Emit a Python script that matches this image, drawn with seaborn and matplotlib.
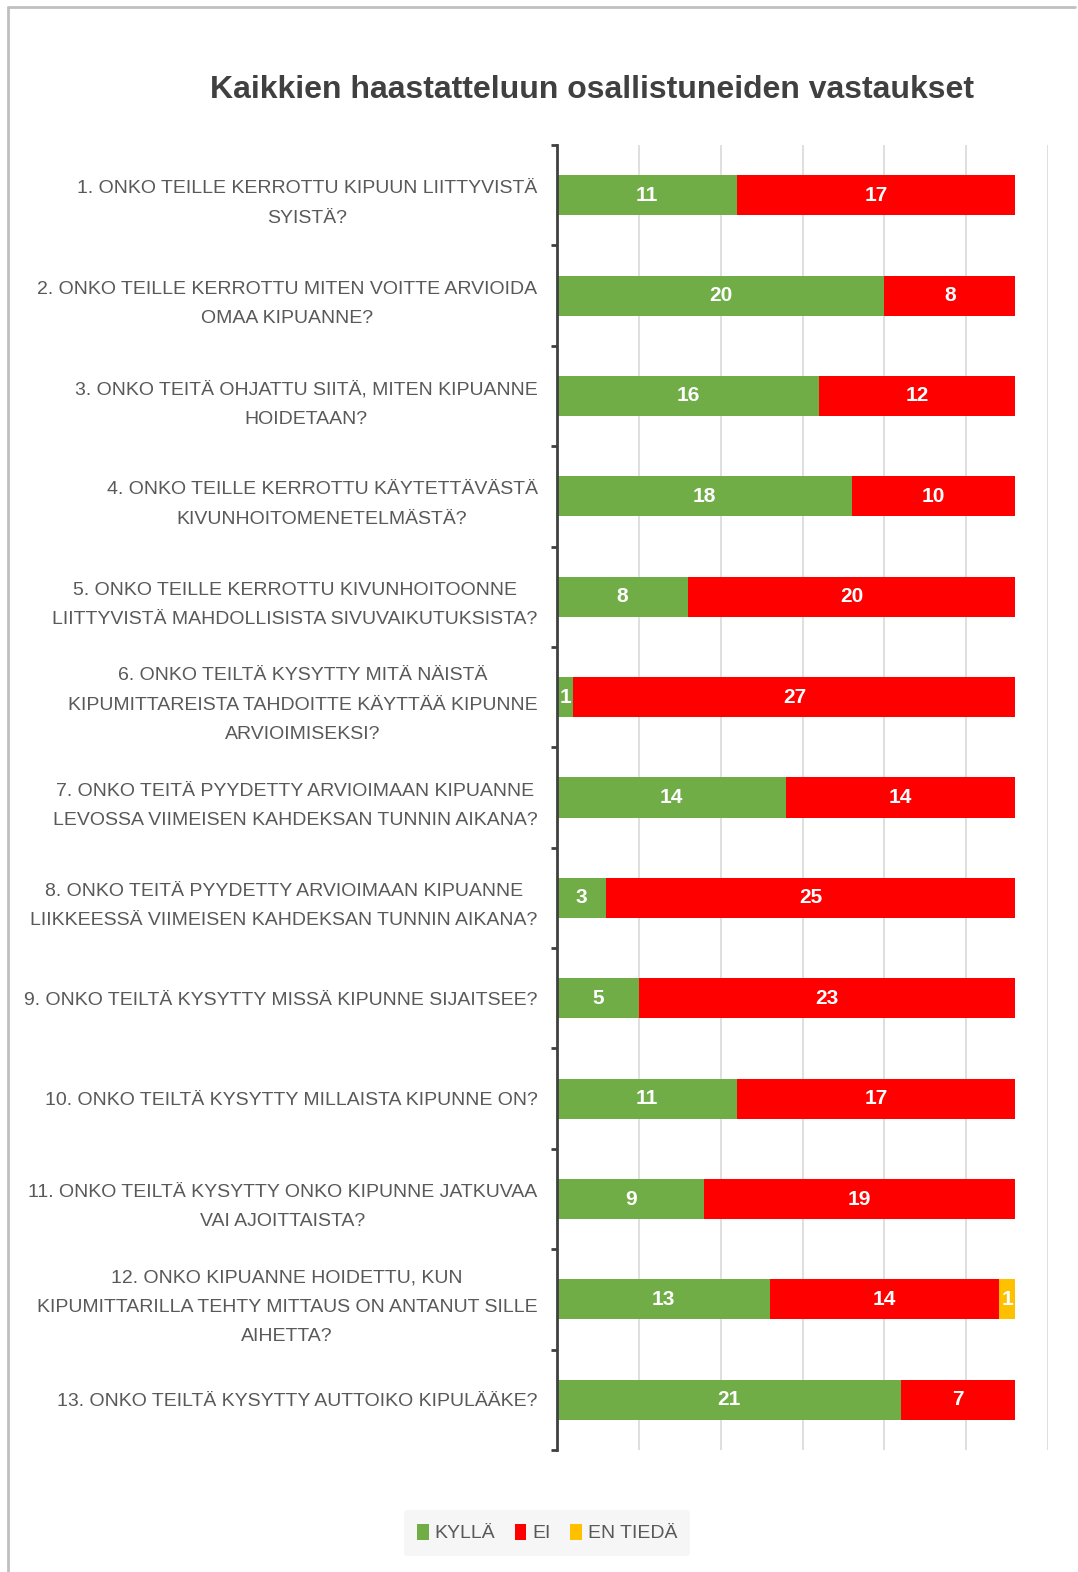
import matplotlib
matplotlib.use("Agg")
import matplotlib.pyplot as plt
from matplotlib.lines import Line2D
from matplotlib.patches import Patch
import seaborn as sns
import pandas as pd

questions = [
    "1. ONKO TEILLE KERROTTU KIPUUN LIITTYVISTÄ\nSYISTÄ?",
    "2. ONKO TEILLE KERROTTU MITEN VOITTE ARVIOIDA\nOMAA KIPUANNE?",
    "3. ONKO TEITÄ OHJATTU SIITÄ, MITEN KIPUANNE\nHOIDETAAN?",
    "4. ONKO TEILLE KERROTTU KÄYTETTÄVÄSTÄ\nKIVUNHOITOMENETELMÄSTÄ?",
    "5. ONKO TEILLE KERROTTU KIVUNHOITOONNE\nLIITTYVISTÄ MAHDOLLISISTA SIVUVAIKUTUKSISTA?",
    "6. ONKO TEILTÄ KYSYTTY MITÄ NÄISTÄ\nKIPUMITTAREISTA TAHDOITTE KÄYTTÄÄ KIPUNNE\nARVIOIMISEKSI?",
    "7. ONKO TEITÄ PYYDETTY ARVIOIMAAN KIPUANNE\nLEVOSSA VIIMEISEN KAHDEKSAN TUNNIN AIKANA?",
    "8. ONKO TEITÄ PYYDETTY ARVIOIMAAN KIPUANNE\nLIIKKEESSÄ VIIMEISEN KAHDEKSAN TUNNIN AIKANA?",
    "9. ONKO TEILTÄ KYSYTTY MISSÄ KIPUNNE SIJAITSEE?",
    "10. ONKO TEILTÄ KYSYTTY MILLAISTA KIPUNNE ON?",
    "11. ONKO TEILTÄ KYSYTTY ONKO KIPUNNE JATKUVAA\nVAI AJOITTAISTA?",
    "12. ONKO KIPUANNE HOIDETTU, KUN\nKIPUMITTARILLA TEHTY MITTAUS ON ANTANUT SILLE\nAIHETTA?",
    "13. ONKO TEILTÄ KYSYTTY AUTTOIKO KIPULÄÄKE?",
]
kylla = [11, 20, 16, 18, 8, 1, 14, 3, 5, 11, 9, 13, 21]
ei = [17, 8, 12, 10, 20, 27, 14, 25, 23, 17, 19, 14, 7]
en_tieda = [0, 0, 0, 0, 0, 0, 0, 0, 0, 0, 0, 1, 0]
series_names = ["KYLLÄ", "EI", "EN TIEDÄ"]
title = "Kaikkien haastatteluun osallistuneiden vastaukset"
x_ticks = [0, 5, 10, 15, 20, 25, 30]

GREEN, RED, YELLOW = "#70AD47", "#FF0000", "#FFC000"
FONT = ["Liberation Sans", "DejaVu Sans"]

sns.set_theme(style="white")
plt.rcParams["font.family"] = FONT

df = pd.DataFrame({"q": questions, "KYLLÄ": kylla, "EI": ei, "EN TIEDÄ": en_tieda})
df["c1"] = df["KYLLÄ"]
df["c2"] = df["KYLLÄ"] + df["EI"]
df["c3"] = df["c2"] + df["EN TIEDÄ"]

fig = plt.figure(figsize=(10.78, 15.72), dpi=100)
ax = fig.add_axes([557 / 1078, 1 - 1450 / 1572, (1048 - 557) / 1078, (1450 - 145) / 1572])

for col, color in [("c3", YELLOW), ("c2", RED), ("c1", GREEN)]:
    sns.barplot(data=df, x=col, y="q", order=questions, color=color, orient="h",
                width=0.4, saturation=1, edgecolor="none", linewidth=0, ax=ax, zorder=3)

# value labels
for i, row in df.iterrows():
    starts = [0, row["c1"], row["c2"]]
    vals = [row["KYLLÄ"], row["EI"], row["EN TIEDÄ"]]
    for s, v in zip(starts, vals):
        if v > 0:
            ax.text(s + v / 2, i, str(v), ha="center", va="center", color="white",
                    fontsize=15, fontweight="bold", family=FONT, zorder=5)

ax.set_xlim(0, 30)
ax.set_ylim(len(questions) - 0.5, -0.5)
ax.set_xticks(x_ticks)
ax.set_xticklabels([])
ax.tick_params(axis="x", length=0)
ax.xaxis.grid(True, color="#d9d9d9", linewidth=1.2, zorder=0)
ax.yaxis.grid(False)
ax.set_axisbelow(True)
ax.set_xlabel("")
ax.set_ylabel("")
for s in ["top", "right", "bottom"]:
    ax.spines[s].set_visible(False)
ax.spines["left"].set_color("#404040")
ax.spines["left"].set_linewidth(2)
ax.spines["left"].set_zorder(6)

ax.set_yticks(range(len(questions)))
ax.set_yticklabels(questions, fontsize=14, color="#595959", family=FONT,
                   linespacing=1.95, multialignment="center")
ax.tick_params(axis="y", which="major", length=0, pad=14)
ax.set_yticks([i - 0.5 for i in range(len(questions) + 1)], minor=True)
ax.tick_params(axis="y", which="minor", length=4, width=2, color="#404040", left=True)

fig.text(592 / 1078, 1 - 90 / 1572, title, ha="center", va="center",
         fontsize=23, fontweight="bold", color="#404040", family=FONT)

handles = [Patch(facecolor=c, edgecolor="none") for c in (GREEN, RED, YELLOW)]
leg = fig.legend(handles, series_names, loc="center", bbox_to_anchor=(547 / 1078, 1 - 1533 / 1572),
                 ncol=3, frameon=True, handlelength=0.6, handleheight=0.9,
                 handletextpad=0.3, columnspacing=1.0, borderpad=0.7,
                 prop={"family": FONT, "size": 14})
leg.get_frame().set_facecolor("#f4f4f4")
leg.get_frame().set_edgecolor("none")
for t in leg.get_texts():
    t.set_color("#595959")

# outer chart border (partially visible)
fig.add_artist(Line2D([8 / 1078, 1075 / 1078], [1 - 7 / 1572, 1 - 7 / 1572],
                      transform=fig.transFigure, color="#c0c0c0", linewidth=2))
fig.add_artist(Line2D([8 / 1078, 8 / 1078], [1 - 7 / 1572, 0],
                      transform=fig.transFigure, color="#c0c0c0", linewidth=2))

fig.savefig("out.png", dpi=100, facecolor="white")
